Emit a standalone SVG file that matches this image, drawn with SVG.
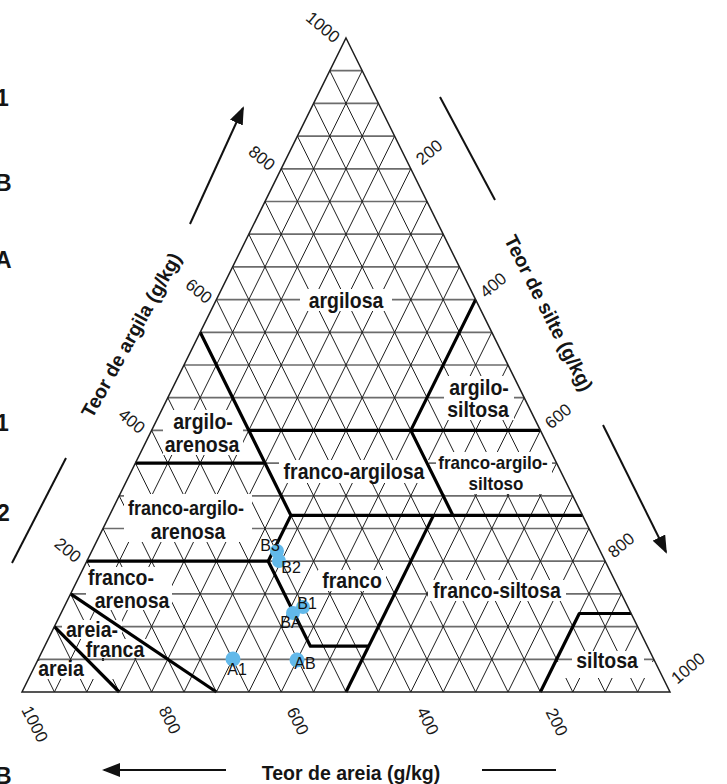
<svg xmlns="http://www.w3.org/2000/svg" width="727" height="784" viewBox="0 0 727 784">
<style>
.bgw{fill:#fff;stroke:none}
.gd{fill:none;stroke:#1e1e1e;stroke-width:1}
.gh{fill:none;stroke:#6c6c6c;stroke-width:1.7}
.thick{fill:none;stroke:#000;stroke-width:3.2;stroke-linejoin:round}
.edge{fill:none;stroke:#1e1e1e;stroke-width:1.5;stroke-linejoin:miter}
.lbl{font-family:"Liberation Sans",Arial,sans-serif;font-weight:bold;font-size:19.5px;fill:#151515;text-anchor:middle}
.sm{font-size:17px}
.tick{font-family:"Liberation Sans",Arial,sans-serif;font-size:17px;fill:#1a1a1a;text-anchor:middle}
.ttl{font-family:"Liberation Sans",Arial,sans-serif;font-weight:bold;font-size:19.5px;fill:#151515;text-anchor:middle}
.pt{font-family:"Liberation Sans",Arial,sans-serif;font-size:16px;fill:#111;text-anchor:middle}
.dot{fill:#62b9ea}
.arr{fill:none;stroke:#111;stroke-width:2}
.mg{font-family:"Liberation Sans",Arial,sans-serif;font-weight:bold;font-size:23px;fill:#151515}
</style>
<defs>
<marker id="ah" markerUnits="userSpaceOnUse" markerWidth="18" markerHeight="14" refX="16" refY="7" orient="auto">
<path d="M0,0 L18,7 L0,14 Z" fill="#111"/>
</marker>
</defs>
<rect width="727" height="784" fill="#fff"/>

<g id="margin">
<text class="mg" x="-4" y="106">1</text>
<text class="mg" x="-5" y="191">B</text>
<text class="mg" x="-5" y="268">A</text>
<text class="mg" x="-4" y="431">1</text>
<text class="mg" x="-3" y="521">2</text>
<text class="mg" x="-5" y="784">B</text>
</g>

<g id="grid">
<path class="gh" d="M38.2,659.3H653.8M54.4,626.6H637.6M70.6,593.9H621.4M86.8,561.2H605.2M103,528.5H589M119.2,495.8H572.8M135.4,463.1H556.6M151.6,430.4H540.4M167.8,397.7H524.2M184,365H508M200.2,332.3H491.8M216.4,299.6H475.6M232.6,266.9H459.4M248.8,234.2H443.2M265,201.5H427M281.2,168.8H410.8M297.4,136.1H394.6M313.6,103.4H378.4M329.8,70.7H362.2"/>
<path class="gd" d="M637.6,692L329.8,70.7M605.2,692L313.6,103.4M572.8,692L297.4,136.1M540.4,692L281.2,168.8M508,692L265,201.5M475.6,692L248.8,234.2M443.2,692L232.6,266.9M410.8,692L216.4,299.6M378.4,692L200.2,332.3M346,692L184,365M313.6,692L167.8,397.7M281.2,692L151.6,430.4M248.8,692L135.4,463.1M216.4,692L119.2,495.8M184,692L103,528.5M151.6,692L86.8,561.2M119.2,692L70.6,593.9M86.8,692L54.4,626.6M54.4,692L38.2,659.3"/>
<path class="gd" d="M54.4,692L362.2,70.7M86.8,692L378.4,103.4M119.2,692L394.6,136.1M151.6,692L410.8,168.8M184,692L427,201.5M216.4,692L443.2,234.2M248.8,692L459.4,266.9M281.2,692L475.6,299.6M313.6,692L491.8,332.3M346,692L508,365M378.4,692L524.2,397.7M410.8,692L540.4,430.4M443.2,692L556.6,463.1M475.6,692L572.8,495.8M508,692L589,528.5M540.4,692L605.2,561.2M572.8,692L621.4,593.9M605.2,692L637.6,626.6M637.6,692L653.8,659.3"/>
</g>

<g id="classes">
<g id="argilosa"><rect class="bgw" x="300" y="289" width="92" height="22"/><text class="lbl" transform="translate(346,300) scale(1,1.1)" dy="0.36em">argilosa</text></g>
<g id="argilo-siltosa"><rect class="bgw" x="444" y="376" width="70" height="44"/><text class="lbl" transform="translate(479,387) scale(1,1.1)" dy="0.36em">argilo-</text><text class="lbl" transform="translate(478,409) scale(1,1.1)" dy="0.36em">siltosa</text></g>
<g id="argilo-arenosa"><rect class="bgw" x="163" y="410" width="80" height="45"/><text class="lbl" transform="translate(203,421) scale(1,1.1)" dy="0.36em">argilo-</text><text class="lbl" transform="translate(202,444) scale(1,1.1)" dy="0.36em">arenosa</text></g>
<g id="franco-argilosa"><rect class="bgw" x="279" y="460" width="150" height="23"/><text class="lbl" transform="translate(354,471) scale(1,1.1)" dy="0.36em">franco-argilosa</text></g>
<g id="franco-argilo-siltoso"><rect class="bgw" x="436" y="452" width="116" height="42"/><text class="lbl sm" transform="translate(493,462) scale(1,1.1)" dy="0.36em">franco-argilo-</text><text class="lbl sm" transform="translate(496,483) scale(1,1.1)" dy="0.36em">siltoso</text></g>
<g id="franco-argilo-arenosa"><rect class="bgw" x="124" y="494" width="128" height="48"/><text class="lbl" style="font-size:18px" transform="translate(186,508) scale(1,1.1)" dy="0.36em">franco-argilo-</text><text class="lbl" transform="translate(188,531) scale(1,1.1)" dy="0.36em">arenosa</text></g>
<g id="franco-arenosa"><rect class="bgw" x="86" y="567" width="86" height="43"/><text class="lbl" transform="translate(121,577) scale(1,1.1)" dy="0.36em">franco-</text><text class="lbl" transform="translate(132,600) scale(1,1.1)" dy="0.36em">arenosa</text></g>
<g id="franco"><rect class="bgw" x="318" y="570" width="68" height="21"/><text class="lbl" transform="translate(352,580) scale(1,1.1)" dy="0.36em">franco</text></g>
<g id="franco-siltosa"><rect class="bgw" x="428" y="580" width="138" height="21"/><text class="lbl" transform="translate(497,590) scale(1,1.1)" dy="0.36em">franco-siltosa</text></g>
<g id="areia-franca"><rect class="bgw" x="62" y="620" width="60" height="19"/><rect class="bgw" x="84" y="639" width="63" height="19"/><text class="lbl" transform="translate(92,629) scale(1,1.1)" dy="0.36em">areia-</text><text class="lbl" transform="translate(115,649) scale(1,1.1)" dy="0.36em">franca</text></g>
<g id="areia"><rect class="bgw" x="24" y="661" width="94" height="18"/><text class="lbl" transform="translate(61,668) scale(1,1.1)" dy="0.36em">areia</text></g>
<g id="siltosa"><rect class="bgw" x="548" y="662" width="107" height="16"/><rect class="bgw" x="572" y="651" width="72" height="20"/><text class="lbl" transform="translate(607,660) scale(1,1.1)" dy="0.36em">siltosa</text></g>
</g>

<g id="connectors">
<path class="thick" d="M200.2,332.3L290.9,515.4L268.2,561.2L310.4,646.2L368.7,646.2"/>
<path class="thick" d="M248.8,430.4H540.4"/>
<path class="thick" d="M475.6,299.6L410.8,430.4L452.9,515.4"/>
<path class="thick" d="M135.4,463.1H265"/>
<path class="thick" d="M290.9,515.4H582.5"/>
<path class="thick" d="M86.8,561.2H268.2"/>
<path class="thick" d="M433.5,515.4L346,692"/>
<path class="thick" d="M70.6,593.9L216.4,692"/>
<path class="thick" d="M54.4,626.6L119.2,692"/>
<path class="thick" d="M540.4,692L579.3,613.5H631.1"/>
<path class="edge" d="M346,38L670,692L22,692Z"/>
<path class="arr" d="M190,224L243,108" marker-end="url(#ah)"/>
<path class="arr" d="M12,563L66,458"/>
<path class="arr" d="M440,97L495,200"/>
<path class="arr" d="M603,425L666,552" marker-end="url(#ah)"/>
<path class="arr" d="M226,770L104,770" marker-end="url(#ah)"/>
<path class="arr" d="M482,770L556,770"/>
</g>

<g id="ticks">
<text class="tick" transform="translate(323,27) rotate(40)" dy="0.35em">1000</text>
<text class="tick" transform="translate(262,158) rotate(40)" dy="0.35em">800</text>
<text class="tick" transform="translate(199,291) rotate(40)" dy="0.35em">600</text>
<text class="tick" transform="translate(132,421) rotate(40)" dy="0.35em">400</text>
<text class="tick" transform="translate(68,550) rotate(40)" dy="0.35em">200</text>
<text class="tick" transform="translate(429,152) rotate(-40)" dy="0.35em">200</text>
<text class="tick" transform="translate(493,285) rotate(-40)" dy="0.35em">400</text>
<text class="tick" transform="translate(558,416) rotate(-40)" dy="0.35em">600</text>
<text class="tick" transform="translate(621,545) rotate(-40)" dy="0.35em">800</text>
<text class="tick" transform="translate(688,668) rotate(-40)" dy="0.35em">1000</text>
<text class="tick" transform="translate(35,724) rotate(63)" dy="0.35em">1000</text>
<text class="tick" transform="translate(170,720) rotate(63)" dy="0.35em">800</text>
<text class="tick" transform="translate(298,721) rotate(63)" dy="0.35em">600</text>
<text class="tick" transform="translate(428,721) rotate(63)" dy="0.35em">400</text>
<text class="tick" transform="translate(557,722) rotate(63)" dy="0.35em">200</text>
</g>

<g id="titles">
<text class="ttl" transform="translate(131,335) rotate(-61)" dy="0.36em">Teor de argila (g/kg)</text>
<text class="ttl" transform="translate(549,313) rotate(63)" dy="0.36em">Teor de silte (g/kg)</text>
<text class="ttl" transform="translate(351,773) scale(1,1.05)" dy="0.36em">Teor de areia (g/kg)</text>
</g>

<g id="samples">
<g id="s-B3"><circle class="dot" cx="277" cy="551" r="7"/><text class="pt" x="270" y="551">B3</text></g>
<g id="s-B2"><circle class="dot" cx="279" cy="561" r="7"/><text class="pt" x="291" y="573">B2</text></g>
<g id="s-B1"><circle class="dot" cx="303" cy="607" r="7"/><text class="pt" x="307" y="609">B1</text></g>
<g id="s-BA"><circle class="dot" cx="293" cy="613" r="7"/><text class="pt" x="291" y="628">BA</text></g>
<g id="s-A1"><circle class="dot" cx="233" cy="659" r="7.5"/><text class="pt" x="237" y="675">A1</text></g>
<g id="s-AB"><circle class="dot" cx="297" cy="660" r="7.5"/><text class="pt" x="305" y="669">AB</text></g>
</g>
</svg>
